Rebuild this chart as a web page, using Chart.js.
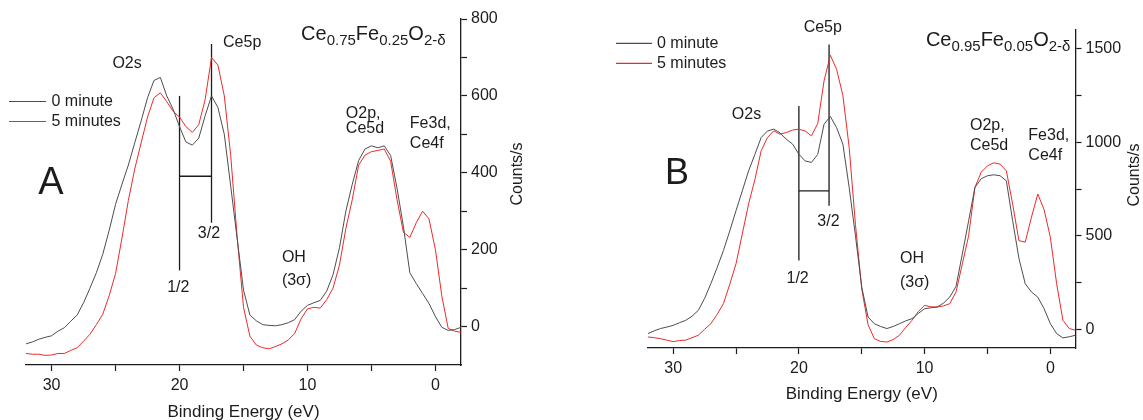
<!DOCTYPE html>
<html>
<head>
<meta charset="utf-8">
<script src="https://cdn.jsdelivr.net/npm/chart.js@4.4.0/dist/chart.umd.min.js"></script>
<style>
body { margin: 0; background: #fff; width: 1143px; height: 420px; overflow: hidden; position: relative; }
.panel { position: absolute; top: 0; }
</style>
</head>
<body>
<div class="panel" style="left:0;width:570px;height:423px"><canvas id="chartA"></canvas></div>
<div class="panel" style="left:570px;width:600px;height:405px"><canvas id="chartB"></canvas></div>
<script>
// binding energy (eV), shared by all four spectra
const energy = [32, 31.5, 31, 30.5, 30, 29.5, 29, 28.5, 28, 27.5,
    27, 26.5, 26, 25.5, 25, 24.5, 24, 23.5, 23, 22.5,
    22, 21.5, 21, 20.5, 20, 19.5, 19, 18.5, 18, 17.5,
    17, 16.5, 16, 15.5, 15, 14.5, 14, 13.5, 13, 12.5,
    12, 11.5, 11, 10.5, 10, 9.5, 9, 8.5, 8, 7.5,
    7, 6.5, 6, 5.5, 5, 4.5, 4, 3.5, 3, 2.5,
    2, 1.5, 1, 0.5, 0, -0.5, -1, -1.5, -2];

// panel A : Ce0.75Fe0.25O2-d
const a_0min = [-45, -40, -33, -28, -24, -12, -3, 14, 30, 62,
    100, 140, 188, 250, 318, 370, 420, 478, 535, 595,
    640, 648, 600, 565, 520, 480, 472, 490, 548, 600,
    570, 500, 365, 230, 95, 30, 15, 5, 3, 2,
    5, 10, 18, 40, 55, 62, 68, 92, 135, 205,
    300, 370, 432, 462, 470, 465, 470, 445, 360, 260,
    140, 112, 86, 60, 26, -2, -10, -8, -2];
const a_5min = [-70, -72, -72, -75, -74, -70, -70, -62, -55, -38,
    -20, 5, 32, 80, 138, 230, 328, 410, 478, 545,
    595, 608, 585, 560, 545, 520, 505, 525, 590, 700,
    680, 600, 445, 235, 50, -25, -48, -55, -58, -52,
    -45, -35, -18, 20, 46, 50, 48, 70, 100, 160,
    255, 330, 420, 446, 455, 458, 462, 430, 330, 245,
    232, 270, 300, 280, 200, 80, -5, -12, -15];

// panel B : Ce0.95Fe0.05O2-d
const b_0min = [-23, -8, 4, 12, 21, 35, 48, 70, 101, 165,
    244, 330, 421, 525, 634, 740, 847, 935, 1025, 1060,
    1070, 1050, 1016, 990, 936, 900, 892, 935, 1096, 1138,
    1078, 990, 758, 500, 225, 66, 30, 15, 4, 15,
    30, 45, 57, 85, 110, 115, 119, 140, 172, 230,
    403, 580, 758, 805, 821, 826, 821, 794, 581, 380,
    244, 199, 172, 110, 30, -23, -46, -40, -32];
const b_5min = [-41, -45, -50, -58, -66, -60, -58, -45, -32, 0,
    30, 80, 137, 240, 350, 510, 670, 800, 954, 1025,
    1061, 1043, 1052, 1065, 1070, 1060, 1034, 1100, 1327, 1465,
    1390, 1250, 972, 560, 215, 25, -50, -65, -68, -55,
    -32, 10, 48, 95, 128, 120, 119, 125, 137, 200,
    350, 500, 758, 840, 874, 890, 883, 847, 670, 474,
    466, 600, 723, 640, 492, 244, 48, 4, -5];

// Ce5p spin-orbit markers: x of 1/2 and 3/2 lines, their bottom/top, height of the bar
const splitA_x = [20, 17.5];
const splitA_lo = [146, 270];
const splitA_hi = [600, 735];
const splitA_bar = 391;
const splitB_x = [20, 17.6];
const splitB_lo = [368, 661];
const splitB_hi = [1194, 1523];
const splitB_bar = 740;

const xTicks = [0, 5, 10, 15, 20, 25, 30];
const xLabels = [0, 10, 20, 30];
const yTicksA = [0, 100, 200, 300, 400, 500, 600, 700, 800];
const yLabelsA = [0, 200, 400, 600, 800];
const yTicksB = [0, 250, 500, 750, 1000, 1250, 1500];
const yLabelsB = [0, 500, 1000, 1500];

const seriesNames = ['0 minute', '5 minutes'];
const ink = '#1c1c1c';
const gray = '#4d4d4d';
const red = '#ec2a2a';
const fontFam = '"Liberation Sans", Arial, sans-serif';

Chart.defaults.font.family = fontFam;
Chart.defaults.color = ink;

function pts(vals) {
    return energy.map((e, i) => ({x: e, y: vals[i]}));
}

function markerSets(xs, lo, hi, bar) {
    const st = {borderColor: ink, borderWidth: 1.3, pointRadius: 0, showLine: true};
    return [
        Object.assign({data: [{x: xs[0], y: lo[0]}, {x: xs[0], y: hi[0]}]}, st),
        Object.assign({data: [{x: xs[1], y: lo[1]}, {x: xs[1], y: hi[1]}]}, st),
        Object.assign({data: [{x: xs[0], y: bar}, {x: xs[1], y: bar}]}, st)
    ];
}

const panelText = {
    id: 'panelText',
    afterDraw(chart, args, o) {
        const ctx = chart.ctx, xs = chart.scales.x, ys = chart.scales.y;
        ctx.save();
        ctx.fillStyle = ink;
        ctx.textBaseline = 'middle';
        o.notes.forEach(n => {
            ctx.font = n.size + 'px ' + fontFam;
            ctx.textAlign = n.align || 'left';
            ctx.fillText(n.text, xs.getPixelForValue(n.x), ys.getPixelForValue(n.y));
        });

        // formula with subscripts
        let fx = xs.getPixelForValue(o.formula.x);
        const fy = ys.getPixelForValue(o.formula.y);
        ctx.textAlign = 'left';
        ctx.textBaseline = 'alphabetic';
        o.formula.parts.forEach((p, i) => {
            const sub = i % 2 === 1;
            ctx.font = (sub ? 15 : 20) + 'px ' + fontFam;
            ctx.fillText(p, fx, fy + (sub ? 4.5 : 0));
            fx += ctx.measureText(p).width;
        });

        // legend
        ctx.textBaseline = 'middle';
        ctx.font = '16px ' + fontFam;
        const L = o.legend;
        [0, 1].forEach(i => {
            const ds = chart.data.datasets[i];
            ctx.strokeStyle = ds.borderColor;
            ctx.lineWidth = 1.2;
            ctx.beginPath();
            ctx.moveTo(L.x0, L.y[i]);
            ctx.lineTo(L.x1, L.y[i]);
            ctx.stroke();
            ctx.fillText(ds.label, L.x2, L.y[i]);
        });

        // y title, reads bottom to top
        ctx.translate(o.yTitle.x, o.yTitle.y);
        ctx.rotate(-Math.PI / 2);
        ctx.textAlign = 'center';
        ctx.fillText('Counts/s', 0, 0);
        ctx.restore();
    }
};

function makePanel(id, cfg) {
    new Chart(document.getElementById(id), {
        type: 'scatter',
        data: {
            datasets: [
                {label: seriesNames[0], data: pts(cfg.s0), borderColor: gray, borderWidth: 1, pointRadius: 0, showLine: true},
                {label: seriesNames[1], data: pts(cfg.s5), borderColor: red, borderWidth: 1, pointRadius: 0, showLine: true}
            ].concat(markerSets(cfg.split.x, cfg.split.lo, cfg.split.hi, cfg.split.bar))
        },
        options: {
            responsive: true,
            maintainAspectRatio: false,
            animation: false,
            layout: {padding: cfg.pad},
            plugins: {
                legend: {display: false},
                tooltip: {enabled: false},
                panelText: cfg.text
            },
            scales: {
                x: {
                    type: 'linear',
                    reverse: true,
                    min: -2,
                    max: 32,
                    afterBuildTicks: s => { s.ticks = xTicks.map(v => ({value: v})); },
                    afterFit: s => { s.height = cfg.xh; },
                    grid: {drawOnChartArea: false, tickLength: 6, color: ink, tickWidth: 1.2},
                    border: {color: ink, width: 1.3},
                    ticks: {padding: 5, maxRotation: 0, font: {size: 16}, color: ink,
                        callback: v => xLabels.includes(v) ? String(v) : ''},
                    title: {display: true, text: 'Binding Energy (eV)', font: {size: 17}, color: ink, padding: 0}
                },
                y: {
                    type: 'linear',
                    position: 'right',
                    min: -100,
                    max: cfg.ymax,
                    afterBuildTicks: s => { s.ticks = cfg.yTicks.map(v => ({value: v})); },
                    afterFit: s => { s.width = cfg.yw; },
                    grid: {drawOnChartArea: false, tickLength: 6, color: ink, tickWidth: 1.2},
                    border: {color: ink, width: 1.3},
                    ticks: {padding: 4, font: {size: 16}, color: ink,
                        callback: v => cfg.yLabels.includes(v) ? String(v) : ''}
                }
            }
        },
        plugins: [panelText]
    });
}

makePanel('chartA', {
    s0: a_0min, s5: a_5min,
    split: {x: splitA_x, lo: splitA_lo, hi: splitA_hi, bar: splitA_bar},
    pad: {left: 26, top: 19, right: 0, bottom: 0},
    xh: 58, yw: 109, ymax: 800,
    yTicks: yTicksA, yLabels: yLabelsA,
    text: {
        notes: [
            {text: 'Ce5p', x: 16.6, y: 739, size: 16},
            {text: 'O2s', x: 24.1, y: 684, size: 16, align: 'center'},
            {text: 'A', x: 30.06, y: 373, size: 38, align: 'center'},
            {text: '1/2', x: 20.1, y: 102, size: 16, align: 'center'},
            {text: '3/2', x: 17.7, y: 241, size: 16, align: 'center'},
            {text: 'OH', x: 12.0, y: 180, size: 16},
            {text: '(3\u03c3)', x: 12.0, y: 120, size: 16},
            {text: 'O2p,', x: 7.0, y: 553, size: 16},
            {text: 'Ce5d', x: 7.0, y: 514, size: 16},
            {text: 'Fe3d,', x: 2.0, y: 527, size: 16},
            {text: 'Ce4f', x: 2.0, y: 475, size: 16}
        ],
        formula: {x: 10.5, y: 745, parts: ['Ce', '0.75', 'Fe', '0.25', 'O', '2-\u03b4']},
        legend: {x0: 9, x1: 46, x2: 51.5, y: [101.5, 121.5]},
        yTitle: {x: 518, y: 174}
    }
});

makePanel('chartB', {
    s0: b_0min, s5: b_5min,
    split: {x: splitB_x, lo: splitB_lo, hi: splitB_hi, bar: splitB_bar},
    pad: {left: 78, top: 30, right: 0, bottom: 0},
    xh: 57, yw: 94.5, ymax: 1600,
    yTicks: yTicksB, yLabels: yLabelsB,
    text: {
        notes: [
            {text: 'Ce5p', x: 18.1, y: 1611, size: 16, align: 'center'},
            {text: 'O2s', x: 25.33, y: 1150, size: 16},
            {text: 'B', x: 29.7, y: 830, size: 36, align: 'center'},
            {text: '1/2', x: 20.1, y: 270, size: 16, align: 'center'},
            {text: '3/2', x: 17.65, y: 575, size: 16, align: 'center'},
            {text: 'OH', x: 11.96, y: 377, size: 16},
            {text: '(3\u03c3)', x: 11.96, y: 252, size: 16},
            {text: 'O2p,', x: 6.39, y: 1087, size: 16},
            {text: 'Ce5d', x: 6.39, y: 981, size: 16},
            {text: 'Fe3d,', x: 1.75, y: 1034, size: 16},
            {text: 'Ce4f', x: 1.75, y: 927, size: 16}
        ],
        formula: {x: 9.9, y: 1514, parts: ['Ce', '0.95', 'Fe', '0.05', 'O', '2-\u03b4']},
        legend: {x0: 46, x1: 82, x2: 87, y: [43.3, 63.3]},
        yTitle: {x: 564.5, y: 175}
    }
});
</script>
</body>
</html>
